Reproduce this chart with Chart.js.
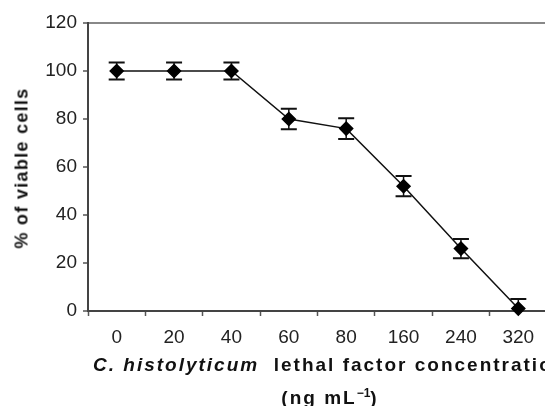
<!DOCTYPE html>
<html>
<head>
<meta charset="utf-8">
<script src="https://cdn.jsdelivr.net/npm/chart.js@4"></script>
<style>
  body { margin: 0; background: #fff; overflow: hidden; }
  #wrap { position: relative; width: 545px; height: 406px; overflow: hidden; }
  canvas { position: absolute; left: 0; top: 0; }
  .ttl { position: absolute; font-family: "Liberation Sans", Arial, sans-serif; font-weight: bold; color: #111; white-space: nowrap; }
  #ytitle { left: 22px; top: 168px; font-size: 18px; letter-spacing: 1.3px; transform: translate(-50%, -50%) rotate(-90deg); }
  #xtitle1 { left: 93px; top: 365px; font-size: 19px; letter-spacing: 2px; transform: translateY(-50%); }
  #xtitle2 { left: 330px; top: 397px; font-size: 19px; letter-spacing: 2px; transform: translate(-50%, -50%); }
  sup { font-size: 12px; vertical-align: 7px; letter-spacing: 0; }
</style>
</head>
<body>
<div id="wrap">
  <canvas id="chart" width="555" height="406"></canvas>
  <div class="ttl" id="ytitle">% of viable cells</div>
  <div class="ttl" id="xtitle1"><i>C. histolyticum</i>&nbsp; lethal factor concentration</div>
  <div class="ttl" id="xtitle2">(ng mL<sup>−1</sup>)</div>
</div>
<script>
// DATA
let concentrations = ["0", "20", "40", "60", "80", "160", "240", "320"];
let viableCells = [100, 100, 100, 80, 76, 52, 26, 1];
let errorValues = [3.5, 3.5, 3.5, 4.3, 4.3, 4.2, 4, 4];
let yTicks = [0, 20, 40, 60, 80, 100, 120];

let fontFamily = '"Liberation Sans", Arial, sans-serif';

// ERROR BARS
const errorBars = {
    id: "errorBars",
    beforeDatasetsDraw(chart) {
        let ctx = chart.ctx;
        let xs = chart.scales.x, ys = chart.scales.y;
        let area = chart.chartArea;
        ctx.save();
        ctx.beginPath();
        ctx.rect(area.left, area.top - 5, area.right - area.left, area.bottom - area.top + 5);
        ctx.clip();
        ctx.strokeStyle = "#111";
        viableCells.forEach((v, i) => {
            let x = xs.getPixelForValue(i);
            let top = ys.getPixelForValue(v + errorValues[i]);
            let bot = ys.getPixelForValue(v - errorValues[i]);
            ctx.lineWidth = 1.5;
            ctx.beginPath();
            ctx.moveTo(x, top);
            ctx.lineTo(x, bot);
            ctx.stroke();
            ctx.lineWidth = 2;
            ctx.beginPath();
            ctx.moveTo(x - 8, top);
            ctx.lineTo(x + 8, top);
            ctx.moveTo(x - 8, bot);
            ctx.lineTo(x + 8, bot);
            ctx.stroke();
        });
        ctx.restore();
    }
};

new Chart(document.getElementById("chart"), {
    type: "line",
    data: {
        labels: concentrations,
        datasets: [{
            data: viableCells,
            borderColor: "#111",
            borderWidth: 1.5,
            pointStyle: "rectRot",
            pointRadius: 6.5,
            pointBackgroundColor: "#000",
            pointBorderColor: "#000",
            tension: 0,
            clip: false
        }]
    },
    options: {
        responsive: false,
        animation: false,
        devicePixelRatio: 1,
        layout: { padding: { top: 23, right: 0, left: 0, bottom: 0 } },
        plugins: { legend: { display: false }, tooltip: { enabled: false } },
        scales: {
            x: {
                offset: true,
                grid: { offset: true, drawOnChartArea: false, tickColor: "#555", tickLength: 5, tickWidth: 1.5 },
                border: { color: "#444", width: 2 },
                ticks: { font: { family: fontFamily, size: 19 }, color: "#222", padding: 10 },
                afterFit: s => { s.height = 95; }
            },
            y: {
                min: 0,
                max: 120,
                afterBuildTicks: s => { s.ticks = yTicks.map(v => ({ value: v })); },
                grid: {
                    color: c => c.tick && c.tick.value === 120 ? "#888" : "transparent",
                    lineWidth: 2,
                    tickColor: "#555",
                    tickLength: 5,
                    tickWidth: 1.5
                },
                border: { color: "#444", width: 2 },
                ticks: { font: { family: fontFamily, size: 19 }, color: "#222", padding: 6 },
                afterFit: s => { s.width = 88; }
            }
        }
    },
    plugins: [errorBars]
});
</script>
</body>
</html>
